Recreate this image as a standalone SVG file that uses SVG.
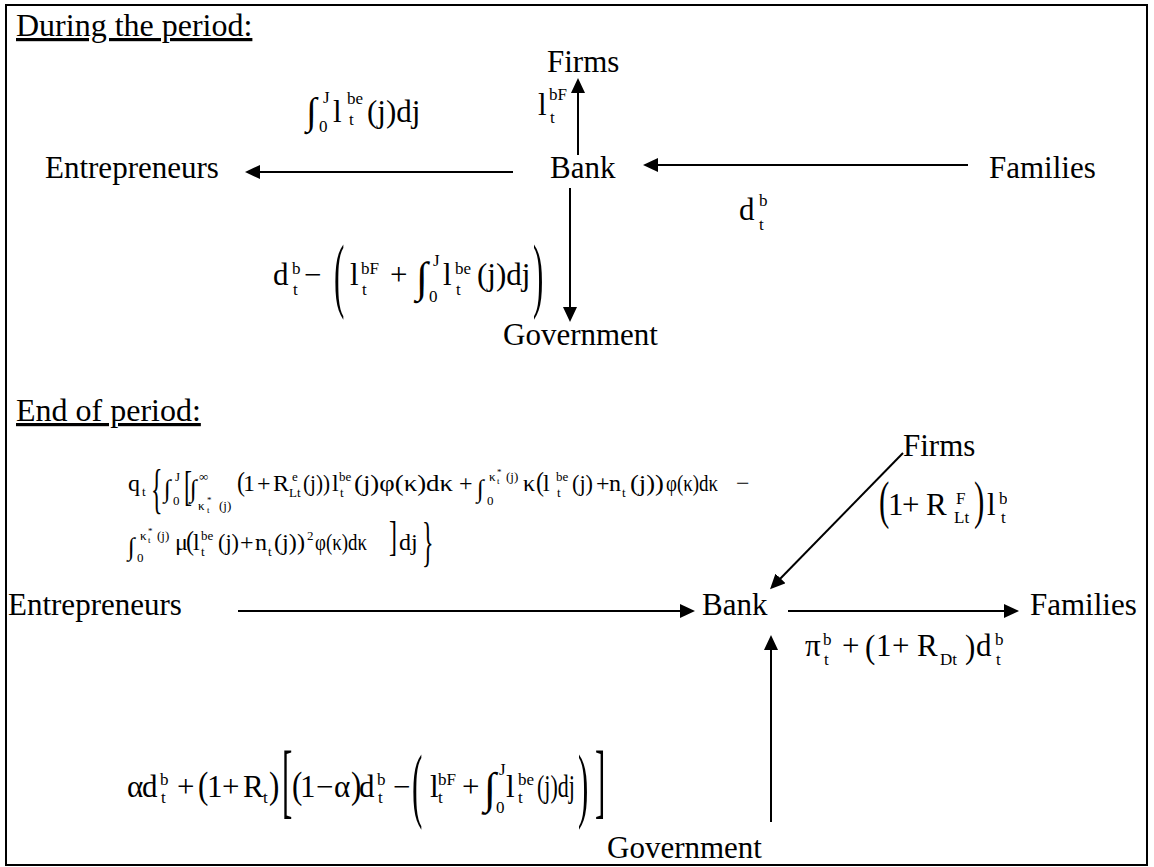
<svg xmlns="http://www.w3.org/2000/svg" width="1154" height="867" viewBox="0 0 1154 867">
<defs>
<marker id="ah" markerUnits="userSpaceOnUse" markerWidth="16" markerHeight="14" refX="5" refY="7" orient="auto"><path d="M0,0 L15,7 L0,14 z" fill="#000"/></marker>
<clipPath id="clipD"><rect x="860" y="470" width="147" height="70"/></clipPath>
</defs>
<style>
text{font-family:"Liberation Serif","Times New Roman",serif;fill:#000}
.h{font-size:32px;text-decoration:underline}
.n{font-size:31px}
.m{font-size:31px}
.s{font-size:17px}
.q{font-size:24px}
.qs{font-size:13px}
.qx{font-size:9px}
.e{stroke:#000;stroke-width:2;fill:none;marker-end:url(#ah)}
</style>
<rect x="6" y="5" width="1141" height="860" fill="#fff" stroke="#000" stroke-width="2"/>
<text class="h" x="16" y="36">During the period:</text>
<text class="h" x="16" y="421">End of period:</text>

<g id="top-firms"><text class="n" x="547" y="72">Firms</text></g>
<g id="top-bank"><text class="n" x="550" y="178">Bank</text></g>
<g id="top-entrepreneurs"><text class="n" x="45" y="178">Entrepreneurs</text></g>
<g id="top-families"><text class="n" x="989" y="178">Families</text></g>
<g id="top-government"><text class="n" x="503" y="345">Government</text></g>

<g id="bot-firms"><text class="n" x="903" y="456">Firms</text></g>
<g id="bot-bank"><text class="n" x="702" y="615">Bank</text></g>
<g id="bot-entrepreneurs"><text class="n" x="8" y="615">Entrepreneurs</text></g>
<g id="bot-families"><text class="n" x="1030" y="615">Families</text></g>
<g id="bot-government"><text class="n" x="607" y="858">Government</text></g>

<g id="connectors">
<line class="e" x1="513" y1="172" x2="255" y2="172"/>
<line class="e" x1="968" y1="165" x2="653" y2="165"/>
<line class="e" x1="578" y1="155" x2="578" y2="88"/>
<line class="e" x1="570" y1="188" x2="570" y2="312"/>
<line class="e" x1="238" y1="611" x2="685" y2="611"/>
<line class="e" x1="788" y1="611" x2="1009" y2="611"/>
<line class="e" x1="903" y1="453" x2="777" y2="582"/>
<line class="e" x1="771" y1="822" x2="771" y2="645"/>
</g>

<g id="label-loans-entrepreneurs">
<text class="m" x="306" y="124" style="font-size:38px">∫</text>
<text class="s" x="323" y="103">J</text>
<text class="s" x="319" y="132">0</text>
<text class="m" x="333" y="122">l</text>
<text class="s" x="347" y="104">be</text>
<text class="s" x="349" y="125">t</text>
<text class="m" x="367" y="122">(j)dj</text>
</g>

<g id="label-loans-firms">
<text class="m" x="538" y="115">l</text>
<text class="s" x="549" y="100">bF</text>
<text class="s" x="550" y="123">t</text>
</g>

<g id="label-deposits">
<text class="m" x="739" y="220">d</text>
<text class="s" x="759" y="206">b</text>
<text class="s" x="759" y="230">t</text>
</g>

<g id="label-government-top">
<text class="m" x="273" y="285">d</text>
<text class="s" x="292" y="274">b</text>
<text class="s" x="293" y="295">t</text>
<text class="m" x="304" y="285">−</text>
<text class="m" transform="translate(334,302) scale(1,2.67)">(</text>
<text class="m" x="350" y="285">l</text>
<text class="s" x="361" y="274">bF</text>
<text class="s" x="362" y="295">t</text>
<text class="m" x="390" y="285">+</text>
<text class="m" x="416" y="292" style="font-size:43px">∫</text>
<text class="s" x="433" y="266">J</text>
<text class="s" x="429" y="302">0</text>
<text class="m" x="443" y="285">l</text>
<text class="s" x="455" y="274">be</text>
<text class="s" x="456" y="295">t</text>
<text class="m" x="477" y="285">(j)dj</text>
<text class="m" transform="translate(533,302) scale(1,2.67)">)</text>
</g>

<g id="label-entrepreneurs-bank">
<text class="q" x="128" y="491">q</text>
<text class="qs" x="142" y="496">t</text>
<text class="q" transform="translate(151,507) scale(1,2.3)">{</text>
<text class="q" x="164" y="497" style="font-size:25px">∫</text>
<text class="qs" x="175" y="481">J</text>
<text class="qs" x="173" y="505">0</text>
<text class="q" transform="translate(184,500) scale(1,1.73)">[</text>
<text class="q" x="190" y="497" style="font-size:25px">∫</text>
<text class="qs" x="199" y="481">∞</text>
<text class="qs" x="198" y="510">κ</text>
<text class="qx" x="207" y="503">*</text>
<text class="qx" x="207" y="513">t</text>
<text class="qs" x="219" y="510">(j)</text>
<text class="q" transform="translate(237,491) scale(1,1.15)">(</text>
<text class="q" x="243" y="491">1</text>
<text class="q" x="257" y="491">+</text>
<text class="q" x="273" y="491">R</text>
<text class="qs" x="292" y="481">e</text>
<text class="qs" x="289" y="497">Lt</text>
<text class="q" x="303" y="491" textLength="27" lengthAdjust="spacingAndGlyphs">(j))</text>
<text class="q" x="332" y="491">l</text>
<text class="qs" x="339" y="481">be</text>
<text class="qs" x="340" y="497">t</text>
<text class="q" x="354" y="491" textLength="99" lengthAdjust="spacingAndGlyphs">(j)φ(κ)dκ</text>
<text class="q" x="459" y="491">+</text>
<text class="q" x="477" y="497" style="font-size:25px">∫</text>
<text class="qs" x="487" y="505">0</text>
<text class="qs" x="489" y="481">κ</text>
<text class="qx" x="497" y="475">*</text>
<text class="qx" x="497" y="484">t</text>
<text class="qs" x="506" y="481">(j)</text>
<text class="q" x="523" y="491">κ</text>
<text class="q" transform="translate(536,491) scale(1,1.15)">(</text>
<text class="q" x="543" y="491">l</text>
<text class="qs" x="556" y="481">be</text>
<text class="qs" x="557" y="497">t</text>
<text class="q" x="572" y="491" textLength="21" lengthAdjust="spacingAndGlyphs">(j)</text>
<text class="q" x="596" y="491">+</text>
<text class="q" x="609" y="491">n</text>
<text class="qs" x="622" y="497">t</text>
<text class="q" x="630" y="491" textLength="34" lengthAdjust="spacingAndGlyphs">(j))</text>
<text class="q" x="666" y="491" textLength="52" lengthAdjust="spacingAndGlyphs">φ(κ)dκ</text>
<text class="q" x="736" y="491">−</text>

<text class="q" x="128" y="555" style="font-size:25px">∫</text>
<text class="qs" x="137" y="562">0</text>
<text class="qs" x="140" y="540">κ</text>
<text class="qx" x="148" y="534">*</text>
<text class="qx" x="148" y="543">t</text>
<text class="qs" x="157" y="540">(j)</text>
<text class="q" x="175" y="550">μ</text>
<text class="q" transform="translate(186,550) scale(1,1.15)">(</text>
<text class="q" x="193" y="550">l</text>
<text class="qs" x="201" y="540">be</text>
<text class="qs" x="201" y="556">t</text>
<text class="q" x="218" y="550" textLength="21" lengthAdjust="spacingAndGlyphs">(j)</text>
<text class="q" x="240" y="550">+</text>
<text class="q" x="255" y="550">n</text>
<text class="qs" x="268" y="556">t</text>
<text class="q" x="274" y="550" textLength="31" lengthAdjust="spacingAndGlyphs">(j))</text>
<text class="qs" x="307" y="540">2</text>
<text class="q" x="315" y="550" textLength="52" lengthAdjust="spacingAndGlyphs">φ(κ)dκ</text>
<text class="q" transform="translate(389,550) scale(1,1.73)">]</text>
<text class="q" x="399" y="550">dj</text>
<text class="q" transform="translate(422,560) scale(1,2.3)">}</text>
</g>

<g id="label-firms-bank" clip-path="url(#clipD)">
<text class="m" transform="translate(879,518) scale(1,1.67)">(</text>
<text class="m" x="888" y="515">1</text>
<text class="m" x="902" y="515">+</text>
<text class="m" x="926" y="515">R</text>
<text class="s" x="956" y="504">F</text>
<text class="s" x="954" y="523">Lt</text>
<text class="m" transform="translate(974,518) scale(1,1.67)">)</text>
<text class="m" x="987" y="515">l</text>
<text class="s" x="999" y="504">b</text>
<text class="s" x="1001" y="523">t</text>
</g>

<g id="label-bank-families">
<text class="m" x="805" y="656">π</text>
<text class="s" x="823" y="645">b</text>
<text class="s" x="824" y="665">t</text>
<text class="m" x="842" y="656">+</text>
<text class="m" transform="translate(865,658) scale(1,1.1)">(</text>
<text class="m" x="876" y="656">1</text>
<text class="m" x="892" y="656">+</text>
<text class="m" x="917" y="656">R</text>
<text class="s" x="940" y="665">Dt</text>
<text class="m" transform="translate(965,658) scale(1,1.1)">)</text>
<text class="m" x="976" y="656">d</text>
<text class="s" x="995" y="645">b</text>
<text class="s" x="996" y="665">t</text>
</g>

<g id="label-government-bank">
<text class="m" x="127" y="797">α</text>
<text class="m" x="142" y="797">d</text>
<text class="s" x="160" y="785">b</text>
<text class="s" x="161" y="803">t</text>
<text class="m" x="177" y="797">+</text>
<text class="m" transform="translate(198,798) scale(1,1.22)">(</text>
<text class="m" x="207" y="797">1</text>
<text class="m" x="222" y="797">+</text>
<text class="m" x="243" y="797">R</text>
<text class="s" x="263" y="803">t</text>
<text class="m" transform="translate(269,798) scale(1,1.22)">)</text>
<text class="m" transform="translate(282,808) scale(1,2.69)">[</text>
<text class="m" transform="translate(292,798) scale(1,1.2)">(</text>
<text class="m" x="300" y="797">1</text>
<text class="m" x="316" y="797">−</text>
<text class="m" x="334" y="797">α</text>
<text class="m" transform="translate(351,798) scale(1,1.2)">)</text>
<text class="m" x="359" y="797">d</text>
<text class="s" x="377" y="785">b</text>
<text class="s" x="378" y="803">t</text>
<text class="m" x="393" y="797">−</text>
<text class="m" transform="translate(412,812) scale(1,2.67)">(</text>
<text class="m" x="430" y="797">l</text>
<text class="s" x="438" y="785">bF</text>
<text class="s" x="438" y="803">t</text>
<text class="m" x="462" y="797">+</text>
<text class="m" x="484" y="803" style="font-size:44px">∫</text>
<text class="s" x="499" y="775">J</text>
<text class="s" x="496" y="813">0</text>
<text class="m" x="506" y="797">l</text>
<text class="s" x="518" y="785">be</text>
<text class="s" x="518" y="803">t</text>
<text class="m" transform="translate(537,797) scale(0.71,1)">(j)dj</text>
<text class="m" transform="translate(578,812) scale(1,2.67)">)</text>
<text class="m" transform="translate(595,808) scale(1,2.69)">]</text>
</g>
</svg>
